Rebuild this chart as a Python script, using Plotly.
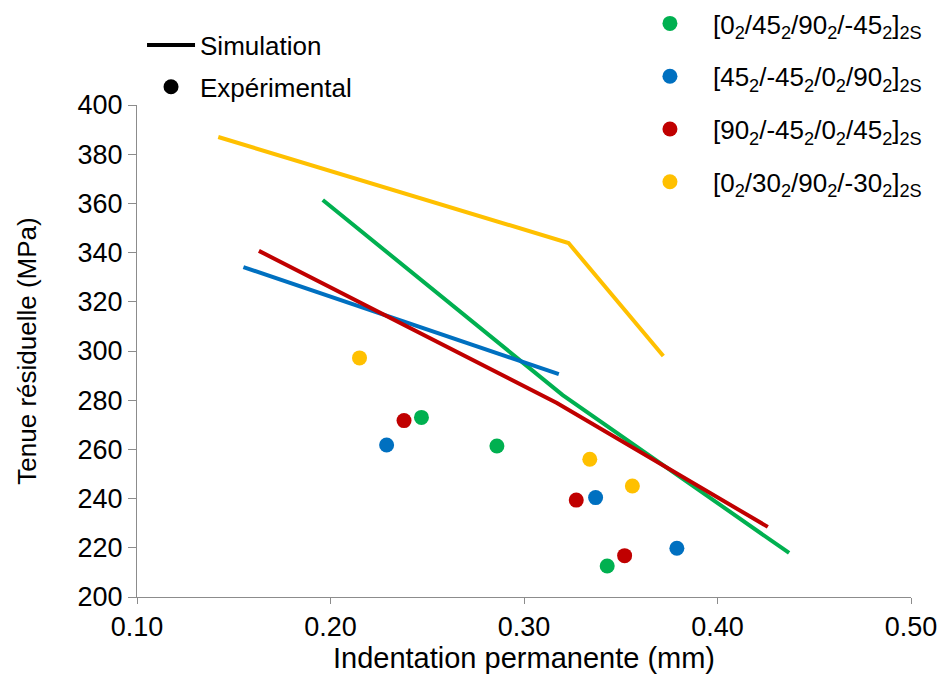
import plotly.graph_objects as go

# ---------------- data ----------------
series_names = [
    "[0<sub>2</sub>/45<sub>2</sub>/90<sub>2</sub>/-45<sub>2</sub>]<sub>2S</sub>",
    "[45<sub>2</sub>/-45<sub>2</sub>/0<sub>2</sub>/90<sub>2</sub>]<sub>2S</sub>",
    "[90<sub>2</sub>/-45<sub>2</sub>/0<sub>2</sub>/45<sub>2</sub>]<sub>2S</sub>",
    "[0<sub>2</sub>/30<sub>2</sub>/90<sub>2</sub>/-30<sub>2</sub>]<sub>2S</sub>",
]
series_colors = ["#00B050", "#0070C0", "#C00000", "#FFC000"]

# Simulation curves
sim_x = [
    [0.196, 0.320, 0.437],
    [0.155, 0.318],
    [0.163, 0.317, 0.426],
    [0.142, 0.323, 0.372],
]
sim_y = [
    [361.4, 282.1, 217.9],
    [334.1, 290.6],
    [340.7, 278.9, 228.5],
    [387.0, 343.9, 298.0],
]

# Experimental points
exp_x = [
    [0.247, 0.286, 0.343],
    [0.229, 0.337, 0.379],
    [0.238, 0.327, 0.352],
    [0.215, 0.334, 0.356],
]
exp_y = [
    [273.0, 261.4, 212.6],
    [261.8, 240.4, 219.8],
    [271.7, 239.4, 216.8],
    [297.2, 256.0, 245.1],
]

x_ticks = [0.10, 0.20, 0.30, 0.40, 0.50]
y_ticks = [200, 220, 240, 260, 280, 300, 320, 340, 360, 380, 400]

FONT = "Liberation Sans, Arial, sans-serif"

fig = go.Figure()

for i in range(len(series_names)):
    fig.add_trace(go.Scatter(
        x=sim_x[i], y=sim_y[i], mode="lines",
        line=dict(color=series_colors[i], width=4),
        showlegend=False, hoverinfo="skip",
    ))

for i in range(len(series_names)):
    fig.add_trace(go.Scatter(
        x=exp_x[i], y=exp_y[i], mode="markers",
        marker=dict(color=series_colors[i], size=15),
        name=series_names[i], legend="legend2", legendgroup=f"g{i}",
    ))

# key legend (type of data)
fig.add_trace(go.Scatter(
    x=[None], y=[None], mode="lines",
    line=dict(color="black", width=4),
    name="Simulation", legend="legend", legendgroup="k1",
))
fig.add_trace(go.Scatter(
    x=[None], y=[None], mode="markers",
    marker=dict(color="black", size=15),
    name="Expérimental", legend="legend", legendgroup="k2",
))

axis_common = dict(
    showgrid=False, zeroline=False, showline=True, automargin=False,
    linecolor="#8C8C8C", linewidth=1,
    ticks="outside", tickcolor="#8C8C8C", tickwidth=1,
    tickfont=dict(family=FONT, size=27, color="black"),
)

fig.update_layout(
    width=941, height=689,
    margin=dict(l=137, r=30, t=105, b=92, autoexpand=False),
    paper_bgcolor="white", plot_bgcolor="white",
    font=dict(family=FONT, size=26, color="black"),
    xaxis=dict(
        range=[0.10, 0.50], tickvals=x_ticks,
        ticktext=[f"{v:.2f}" for v in x_ticks], ticklen=6,
        title=dict(text="Indentation permanente (mm)",
                   font=dict(family=FONT, size=29, color="black"), standoff=0),
        **axis_common,
    ),
    yaxis=dict(
        range=[200, 400], tickvals=y_ticks, ticklen=8,
        title=dict(text="Tenue résiduelle (MPa)",
                   font=dict(family=FONT, size=26, color="black"), standoff=33),
        **axis_common,
    ),
    legend=dict(
        x=0.0065, y=1.1697, xanchor="left", yanchor="top",
        bgcolor="rgba(0,0,0,0)", itemwidth=48, tracegroupgap=5,
        font=dict(family=FONT, size=26, color="black"),
    ),
    legend2=dict(
        x=0.633, y=1.2134, xanchor="left", yanchor="top",
        bgcolor="rgba(0,0,0,0)", itemwidth=76, tracegroupgap=16,
        font=dict(family=FONT, size=26, color="black"),
    ),
)

fig.write_html("out.html", config={"displayModeBar": False},
               post_script="document.body.style.margin='0';")
